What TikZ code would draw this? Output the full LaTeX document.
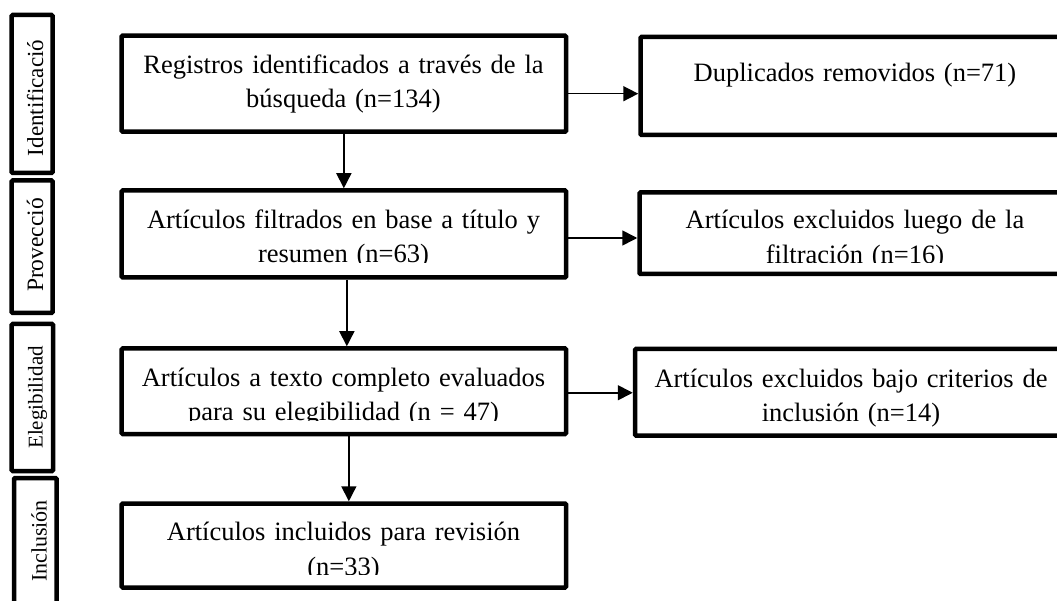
\documentclass[tikz,border=0pt]{standalone}
\usepackage{fontspec}
\setmainfont{Liberation Serif}
\usetikzlibrary{arrows.meta,fit}
\begin{document}
\begin{tikzpicture}[x=1pt,y=-1pt,
  pbox/.style={draw, line width=4.5pt, inner sep=0pt, rounded corners=1pt},
  lbl/.style={font=\fontsize{26.5}{34.5}\selectfont, text width=#1, align=center, anchor=base, inner sep=0pt},
  side/.style={rotate=90, anchor=base, inner sep=0pt, font=\fontsize{#1}{#1}\selectfont},
  arr/.style={line width=1.6pt, -{Triangle[length=15pt,width=15pt]}}]
\fill[white] (0,0) rectangle (1057,601);
\useasboundingbox (0,0) rectangle (1057,601);

% side stage boxes
\node[pbox, fit={(11.7,15) (52.5,173)}] (s1) {};
\node[pbox, fit={(11.7,180.5) (52.5,313)}] (s2) {};
\node[pbox, fit={(11.7,324) (53,471)}] (s3) {};
\node[pbox, fit={(14,478) (56.5,625)}] (s4) {};
\node[side=23] (l1) at (43,98) {Identificació};
\node[side=23.5] (l2) at (43,245) {Provecció};
\node[side=21] (l3) at (42.7,397.5) {Elegibilidad};
\node[side=22] (l4) at (46.7,541) {Inclusión};

% main boxes
\node[pbox, fit={(121.7,35.7) (566,131.7)}] (b1) {};
\node[pbox, fit={(121.7,190.5) (566,277.5)}] (b2) {};
\node[pbox, fit={(121.7,348.5) (566,434)}] (b3) {};
\node[pbox, fit={(121.7,503.5) (566,587.5)}] (b4) {};

% right boxes
\node[pbox, fit={(640.5,37) (1070,135)}] (d1) {};
\node[pbox, fit={(639.5,192.5) (1070,274)}] (e1) {};
\node[pbox, fit={(635,349) (1067,435.5)}] (e2) {};

% texts
\node[lbl=440pt] (t1) at (343.5,73.3) {Registros identificados a través de la\\búsqueda (n=134)};
\node[lbl=425pt] (t5) at (855,81.7) {Duplicados removidos (n=71)};
\begin{scope}
\clip (125,194) rectangle (562,262.5);
\node[lbl=440pt] (t2) at (343.5,228.5) {Artículos filtrados en base a título y\\resumen (n=63)};
\end{scope}
\begin{scope}
\clip (643,196) rectangle (1057,262.5);
\node[lbl=425pt] (t6) at (855,229) {Artículos excluidos luego de la\\filtración (n=16)};
\end{scope}
\begin{scope}
\clip (125,352) rectangle (562,420.5);
\node[lbl=440pt] (t3) at (343.5,386) {Artículos a texto completo evaluados\\para su elegibilidad (n = 47)};
\end{scope}
\node[lbl=425pt] (t7) at (851,387) {Artículos excluidos bajo criterios de\\inclusión (n=14)};
\begin{scope}
\clip (125,507) rectangle (562,574);
\node[lbl=440pt] (t4) at (343.5,540.5) {Artículos incluidos para revisión\\(n=33)};
\end{scope}

% connectors
\draw[arr] (b1.south) -- (b2.north);
\draw[arr] ([xshift=3pt]b2.south) -- ([xshift=3pt]b3.north);
\draw[arr] ([xshift=5pt]b3.south) -- ([xshift=5pt]b4.north);
\draw[arr] ([yshift=-10pt]b1.east) -- ([yshift=-10pt]b1.east -| d1.west);
\draw[arr] ([yshift=-4pt]b2.east) -- ([yshift=-4pt]b2.east -| e1.west);
\draw[arr] ([yshift=-1.5pt]b3.east) -- ([yshift=-1.5pt]b3.east -| e2.west);
\end{tikzpicture}
\end{document}
